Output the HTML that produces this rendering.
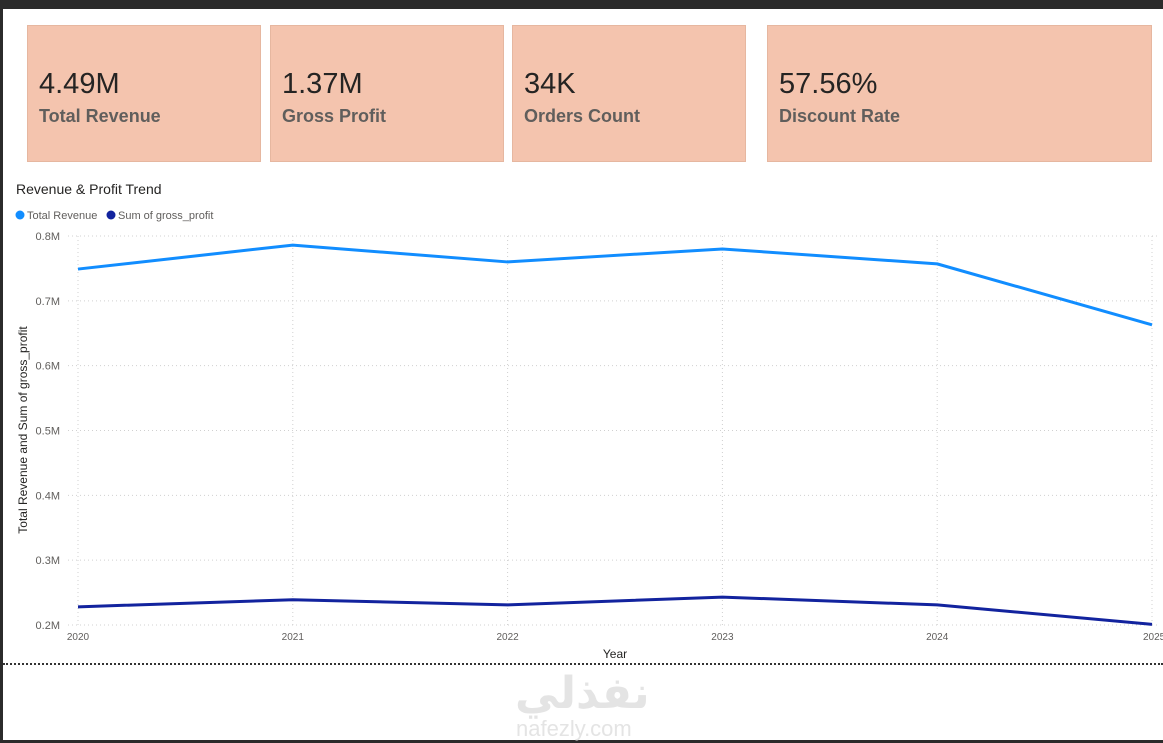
<!DOCTYPE html>
<html><head><meta charset="utf-8"><style>
body{margin:0;width:1163px;height:743px;background:#fff;position:relative;overflow:hidden;font-family:"Segoe UI","Liberation Sans","DejaVu Sans",sans-serif}
.top{position:absolute;left:0;top:0;width:1163px;height:9px;background:#2b2b2b}
.lb{position:absolute;left:0;top:0;width:3px;height:743px;background:#2b2b2b}
.bb{position:absolute;left:0;top:740px;width:1163px;height:3px;background:#2b2b2b}
.card{position:absolute;top:25px;height:137px;background:#f4c4ae;border:1px solid #e6b7a0;box-sizing:border-box}
.card .v{position:absolute;left:11px;top:42px;font-size:29px;color:#252423}
.card .l{position:absolute;left:11px;top:80px;font-size:18px;font-weight:bold;color:#605e5c}
</style></head><body>
<div class="top"></div>
<div class="lb"></div>
<div class="bb"></div>
<div class="card" style="left:27px;width:234px"><div class="v">4.49M</div><div class="l">Total Revenue</div></div>
<div class="card" style="left:270px;width:234px"><div class="v">1.37M</div><div class="l">Gross Profit</div></div>
<div class="card" style="left:512px;width:234px"><div class="v">34K</div><div class="l">Orders Count</div></div>
<div class="card" style="left:767px;width:385px"><div class="v">57.56%</div><div class="l">Discount Rate</div></div>
<svg id="ch" width="1163" height="743" style="position:absolute;left:0;top:0"></svg>
<div style="position:absolute;left:3px;top:663px;width:1160px;border-top:2px dotted #333"></div>
<div style="position:absolute;left:515px;top:668px;font-size:44px;font-weight:bold;color:#e4e4e4;font-family:'DejaVu Sans',sans-serif">نفذلي</div>
<div style="position:absolute;left:516px;top:716px;font-size:22px;color:#e4e4e4">nafezly.com</div>
<script>
const years=["2020","2021","2022","2023","2024","2025"];
const revenue=[0.749,0.786,0.760,0.780,0.757,0.663];
const profit=[0.228,0.239,0.231,0.243,0.231,0.201];
const yTicks=[0.2,0.3,0.4,0.5,0.6,0.7,0.8];
const yLabels=["0.2M","0.3M","0.4M","0.5M","0.6M","0.7M","0.8M"];
const svg=document.getElementById('ch'),NS="http://www.w3.org/2000/svg";
const x0=78,x1=1152,yTop=236,yBot=625;
const X=i=>x0+i*(x1-x0)/(years.length-1);
const Y=v=>yBot-(v-0.2)/(0.8-0.2)*(yBot-yTop);
function el(t,a,txt){const e=document.createElementNS(NS,t);for(const k in a)e.setAttribute(k,a[k]);if(txt!==undefined)e.textContent=txt;svg.appendChild(e);return e;}
let e;
e=el('text',{x:16,y:194,'font-size':14,fill:'#252423'},'Revenue & Profit Trend');


e=el('circle',{cx:20,cy:215,r:4.5,fill:'#118dff'});


e=el('text',{x:27,y:219,'font-size':11,fill:'#605e5c'},'Total Revenue');


e=el('circle',{cx:111,cy:215,r:4.5,fill:'#12239e'});


e=el('text',{x:118,y:219,'font-size':11,fill:'#605e5c'},'Sum of gross_profit');


yTicks.forEach((t,i)=>{
 e=el('line',{x1:68,x2:1160,y1:Y(t),y2:Y(t),stroke:'#d0d0d0','stroke-dasharray':'1,3'});
 
 
 e=el('text',{x:60,y:Y(t)+4,'font-size':11,fill:'#605e5c','text-anchor':'end'},yLabels[i]);
 
 
});
years.forEach((yr,i)=>{
 e=el('line',{x1:X(i),x2:X(i),y1:yTop,y2:yBot,stroke:'#d0d0d0','stroke-dasharray':'1,3'});
 
 
 e=el('text',{x:X(i),y:640,'font-size':10,fill:'#605e5c','text-anchor':i==5?'start':'middle',dx:i==5?-9:0},yr);
 
 
});
e=el('text',{x:615,y:658,'font-size':12,fill:'#252423','text-anchor':'middle'},'Year');


e=el('text',{x:0,y:0,'font-size':12,fill:'#252423','text-anchor':'middle',transform:'translate(27,430) rotate(-90)'},'Total Revenue and Sum of gross_profit');


e=el('polyline',{points:revenue.map((v,i)=>X(i)+','+Y(v)).join(' '),fill:'none',stroke:'#118dff','stroke-width':3,'stroke-linejoin':'round'});


e=el('polyline',{points:profit.map((v,i)=>X(i)+','+Y(v)).join(' '),fill:'none',stroke:'#12239e','stroke-width':3,'stroke-linejoin':'round'});


</script>
</body></html>
